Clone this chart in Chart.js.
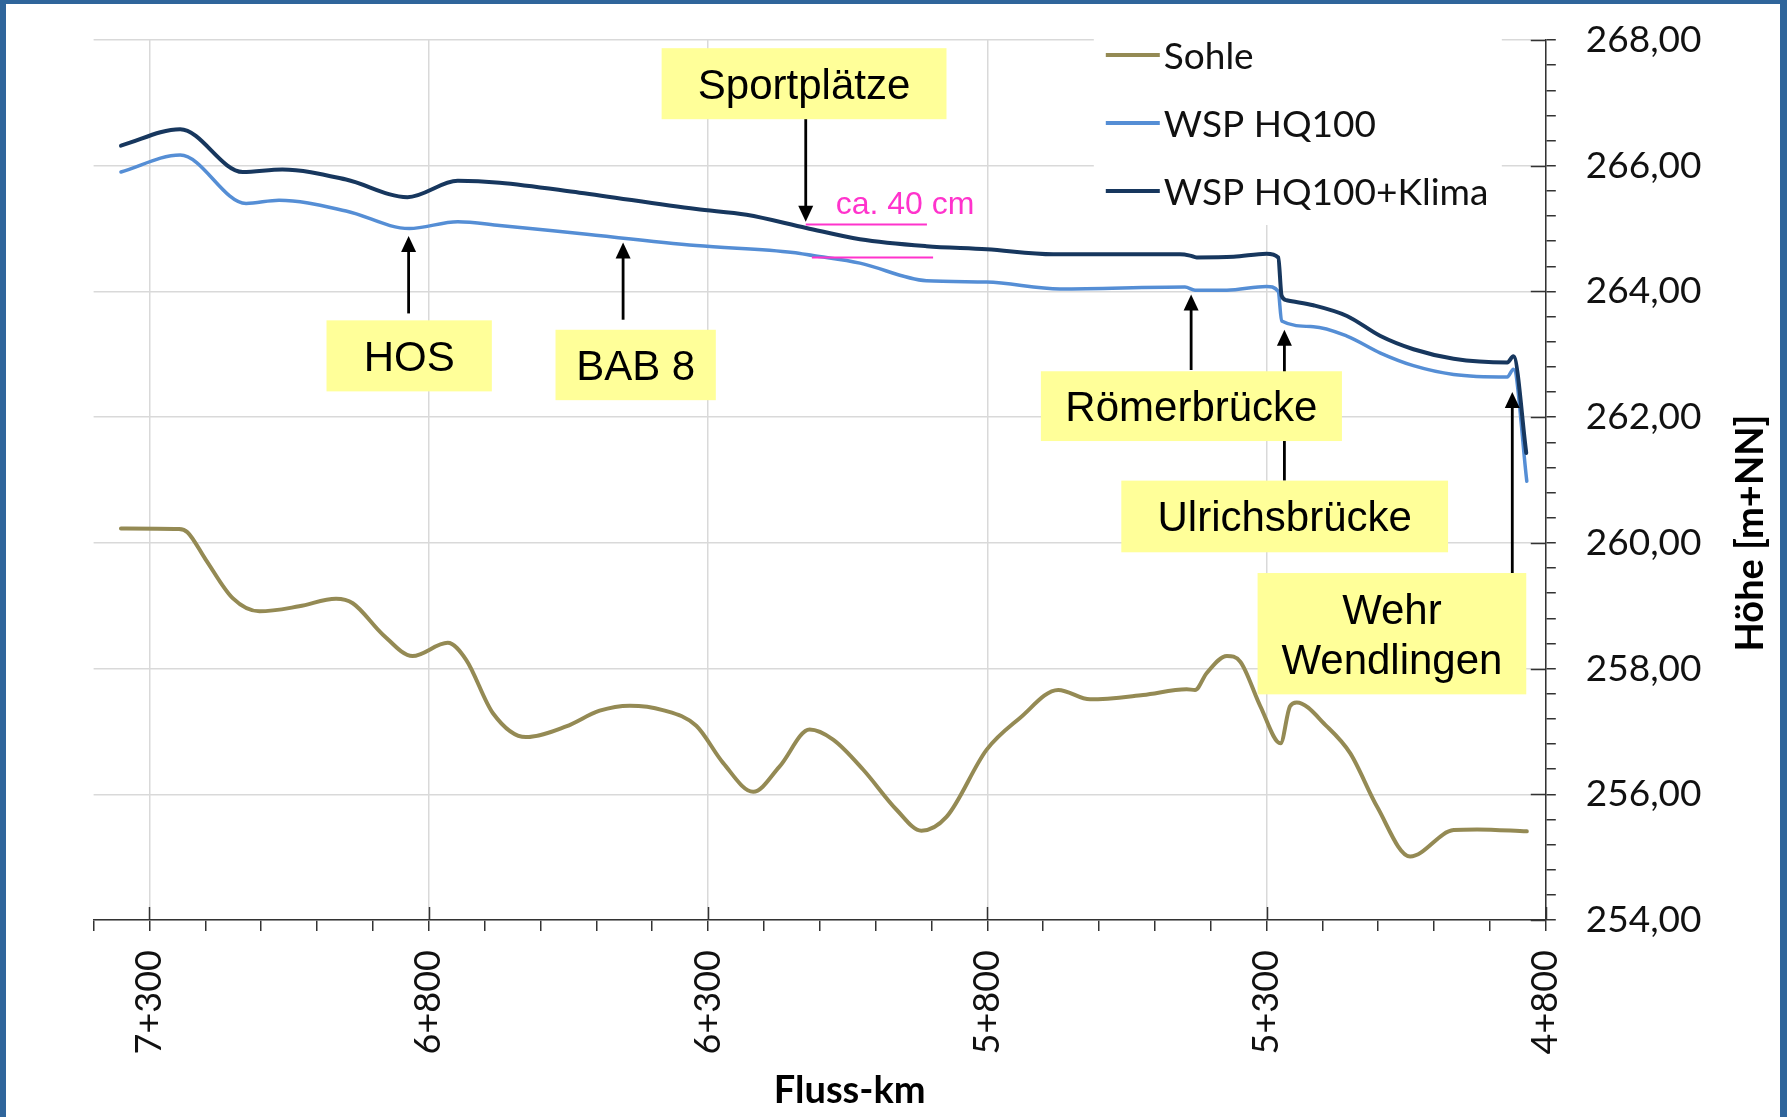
<!DOCTYPE html>
<html lang="de">
<head>
  <meta charset="UTF-8">
  <title>Längsschnitt Fluss-km 7+400 – 4+800</title>
  <script src="https://cdn.jsdelivr.net/npm/chart.js@4.4.1/dist/chart.umd.min.js"></script>
  <style>
    html, body { margin: 0; padding: 0; background: #fff; }
    #wrap { width: 1787px; height: 1117px; }
  </style>
</head>
<body>
  <div id="wrap"><canvas id="chart" width="1787" height="1117"></canvas></div>
  <script>
    // values: station (m along river) and height (m+NN)
    const sohleKm = [7351, 7247, 7232, 7199, 7151, 7103, 7032, 6966, 6936, 6882, 6829, 6766, 6733, 6685, 6626, 6554,
      6494, 6440, 6381, 6321, 6273, 6219, 6172, 6118, 6076, 6022, 5962, 5918, 5873, 5801, 5742, 5673, 5616, 5521,
      5443, 5428, 5407, 5371, 5347, 5311, 5275, 5258, 5246, 5192, 5150, 5102, 5043, 4965, 4923, 4834];
    const sohle = [260.23, 260.22, 260.17, 259.73, 259.12, 258.91, 258.99, 259.11, 259.04, 258.54, 258.20, 258.41,
      258.14, 257.29, 256.91, 257.08, 257.33, 257.41, 257.34, 257.09, 256.50, 256.04, 256.44, 257.03, 256.87, 256.39,
      255.75, 255.42, 255.64, 256.71, 257.21, 257.66, 257.51, 257.58, 257.67, 257.66, 257.93, 258.20, 258.11, 257.40,
      256.81, 257.40, 257.46, 257.08, 256.65, 255.80, 255.01, 255.43, 255.44, 255.41];

    const hq100Km = [7351, 7245, 7127, 7068, 6948, 6835, 6748, 6673, 6530, 6321, 6148, 6112, 6028, 5909, 5801, 5670,
      5446, 5428, 5371, 5300, 5279, 5273, 5216, 5156, 5096, 5037, 4965, 4869, 4858, 4834];
    const hq100 = [265.90, 266.17, 265.40, 265.45, 265.28, 265.00, 265.11, 265.05, 264.92, 264.73, 264.62, 264.57,
      264.45, 264.17, 264.15, 264.04, 264.07, 264.02, 264.02, 264.08, 264.00, 263.53, 263.44, 263.29, 263.02, 262.82,
      262.68, 262.64, 262.76, 260.98];

    const klimaKm = [7351, 7245, 7133, 7062, 6948, 6838, 6748, 6673, 6530, 6321, 6231, 6124, 6028, 5909, 5801, 5682,
      5455, 5437, 5425, 5359, 5300, 5279, 5273, 5264, 5216, 5156, 5096, 5037, 4965, 4869, 4858, 4835];
    const klima = [266.32, 266.58, 265.90, 265.94, 265.78, 265.50, 265.76, 265.73, 265.57, 265.31, 265.22, 265.01,
      264.83, 264.72, 264.67, 264.59, 264.59, 264.57, 264.54, 264.55, 264.60, 264.54, 263.93, 263.86, 263.78, 263.61,
      263.29, 263.08, 262.93, 262.87, 262.97, 261.43];

    const seriesNames = ['Sohle', 'WSP HQ100', 'WSP HQ100+Klima'];
    const xMajorKm = [7300, 6800, 6300, 5800, 5300, 4800];
    const yMajor = [254, 256, 258, 260, 262, 264, 266, 268];

    // annotation callouts: box [kmLeft, kmRight, hTop, hBottom], arrow [km, hFrom, hTip]
    const callouts = [
      { text: ['Sportplätze'], box: [6383, 5873, 267.87, 266.74], arrow: [6125, 266.75, 265.11] },
      { text: ['HOS'], box: [6983, 6687, 263.54, 262.41], arrow: [6836, 263.65, 264.88] },
      { text: ['BAB 8'], box: [6573, 6286, 263.39, 262.27], arrow: [6452, 263.55, 264.78] },
      { text: ['Ulrichsbrücke'], box: [5560, 4975, 260.99, 259.85], arrow: [5268, 260.99, 263.39] },
      { text: ['Römerbrücke'], box: [5704, 5165, 262.73, 261.62], arrow: [5435, 262.75, 263.95] },
      { text: ['Wehr', 'Wendlingen'], box: [5316, 4835, 259.52, 257.59], arrow: [4860, 259.52, 262.40] }
    ];
    // the two pink marker lines for the 40 cm difference [kmFrom, kmTo, h]
    const diffMarks = [[6125, 5908, 265.07], [6114, 5897, 264.55]];

    const colors = ['#948a54', '#558ed5', '#17375e'];
    const frameColor = '#2f659b';
    const gridColor = '#d9d9d9';
    const axisColor = '#333333';
    const uiFont = "Lato, 'Open Sans', sans-serif";
    const boxFont = "'Liberation Sans', Arial, sans-serif";

    const isMajorKm = v => xMajorKm.includes(Math.round(v));
    const isMajorH = v => Math.abs((v - 254) / 2 - Math.round((v - 254) / 2)) < 1e-6;
    const fmtKm = v => Math.floor(v / 1000) + '+' + String(Math.round(v % 1000)).padStart(3, '0');

    const pts = (xs, ys) => xs.map((x, i) => ({ x: x, y: ys[i] }));

    function arrow(c, x, yFrom, yTip) {
      const dir = Math.sign(yTip - yFrom);
      c.beginPath();
      c.moveTo(x, yFrom);
      c.lineTo(x, yTip - dir * 12);
      c.stroke();
      c.beginPath();
      c.moveTo(x, yTip);
      c.lineTo(x - 7.5, yTip - dir * 16);
      c.lineTo(x + 7.5, yTip - dir * 16);
      c.closePath();
      c.fill();
    }

    const decor = {
      id: 'decor',
      beforeDraw(chart) {
        const c = chart.ctx;
        c.save();
        c.fillStyle = '#fff';
        c.fillRect(0, 0, chart.width, chart.height);
        c.fillStyle = frameColor;
        c.fillRect(0, 0, chart.width, 4);
        c.fillRect(0, 0, 6, chart.height);
        c.fillRect(chart.width - 7, 0, 7, chart.height);
        c.restore();
      },
      beforeDatasetsDraw(chart) {
        const c = chart.ctx, a = chart.chartArea;
        const xs = chart.scales.x, ys = chart.scales.y;
        c.save();
        // legend background hides the grid
        c.fillStyle = '#fff';
        c.fillRect(a.right - 452, a.top - 20, 408, 205);
        // major tick marks also cross into the plot
        c.strokeStyle = axisColor;
        c.lineWidth = 1.5;
        c.beginPath();
        xMajorKm.forEach(v => {
          const px = Math.round(xs.getPixelForValue(v)) + 0.5;
          c.moveTo(px, a.bottom - 13);
          c.lineTo(px, a.bottom);
        });
        yMajor.forEach(v => {
          const py = Math.round(ys.getPixelForValue(v)) + 0.5;
          c.moveTo(a.right - 15, py);
          c.lineTo(a.right, py);
        });
        c.stroke();
        c.restore();
      },
      afterDatasetsDraw(chart) {
        const c = chart.ctx, a = chart.chartArea;
        const xs = chart.scales.x, ys = chart.scales.y;
        c.save();

        // legend
        c.font = '37px ' + uiFont;
        c.textBaseline = 'alphabetic';
        c.textAlign = 'left';
        chart.data.datasets.forEach((ds, i) => {
          const y = a.top + 15 + i * 68;
          c.strokeStyle = ds.borderColor;
          c.lineWidth = 4;
          c.beginPath();
          c.moveTo(a.right - 440, y);
          c.lineTo(a.right - 386, y);
          c.stroke();
          c.fillStyle = '#111';
          c.fillText(ds.label, a.right - 382, y + 13.5);
        });

        // arrows first, boxes on top of them
        c.strokeStyle = '#000';
        c.fillStyle = '#000';
        c.lineWidth = 2.8;
        callouts.forEach(n => {
          arrow(c, xs.getPixelForValue(n.arrow[0]), ys.getPixelForValue(n.arrow[1]), ys.getPixelForValue(n.arrow[2]));
        });
        c.font = '42px ' + boxFont;
        c.textAlign = 'center';
        callouts.forEach(n => {
          const x0 = xs.getPixelForValue(n.box[0]), x1 = xs.getPixelForValue(n.box[1]);
          const y0 = ys.getPixelForValue(n.box[2]), y1 = ys.getPixelForValue(n.box[3]);
          c.fillStyle = '#ffff99';
          c.fillRect(x0, y0, x1 - x0, y1 - y0);
          c.fillStyle = '#000';
          const cx = (x0 + x1) / 2, cy = (y0 + y1) / 2;
          n.text.forEach((t, i) => {
            c.fillText(t, cx, cy + 15 + (i - (n.text.length - 1) / 2) * 50);
          });
        });

        // 40 cm marker
        c.strokeStyle = '#ff33cc';
        c.fillStyle = '#ff33cc';
        c.lineWidth = 2.2;
        diffMarks.forEach(m => {
          const y = Math.round(ys.getPixelForValue(m[2])) + 0.5;
          c.beginPath();
          c.moveTo(xs.getPixelForValue(m[0]), y);
          c.lineTo(xs.getPixelForValue(m[1]), y);
          c.stroke();
        });
        c.font = '32px ' + boxFont;
        c.textAlign = 'left';
        c.fillText('ca. 40 cm', xs.getPixelForValue(diffMarks[0][0]) + 30, ys.getPixelForValue(diffMarks[0][2]) - 10);

        // axis titles
        c.fillStyle = '#000';
        c.font = 'bold 38px ' + uiFont;
        c.textAlign = 'center';
        c.fillText('Fluss-km', (a.left + a.right) / 2 + 30, chart.height - 14);
        c.translate(chart.width - 38, (a.top + a.bottom) / 2 + 53);
        c.rotate(-Math.PI / 2);
        c.fillText('Höhe [m+NN]', 0, 13.7);
        c.restore();
      }
    };

    new Chart(document.getElementById('chart'), {
      type: 'line',
      data: {
        datasets: [
          { label: seriesNames[0], data: pts(sohleKm, sohle), borderColor: colors[0], borderWidth: 4, order: 2 },
          { label: seriesNames[1], data: pts(hq100Km, hq100), borderColor: colors[1], borderWidth: 3.5, order: 1 },
          { label: seriesNames[2], data: pts(klimaKm, klima), borderColor: colors[2], borderWidth: 4, order: 0 }
        ]
      },
      options: {
        responsive: false,
        animation: false,
        layout: { padding: { left: 93.6, top: 40, right: 0, bottom: 0 } },
        elements: {
          point: { radius: 0, hoverRadius: 0 },
          line: { cubicInterpolationMode: 'monotone', fill: false, borderCapStyle: 'round', borderJoinStyle: 'round' }
        },
        plugins: { legend: { display: false }, tooltip: { enabled: false } },
        scales: {
          x: {
            type: 'linear',
            reverse: true,
            min: 4800,
            max: 7400,
            afterBuildTicks: s => {
              s.ticks = [];
              for (let v = 4800; v <= 7400; v += 100) s.ticks.push({ value: v });
            },
            afterFit: s => { s.height = 197; },
            ticks: {
              autoSkip: false,
              minRotation: 90,
              maxRotation: 90,
              padding: 19,
              color: '#111',
              font: { family: uiFont, size: 36 },
              callback: v => isMajorKm(v) ? fmtKm(v) : ''
            },
            grid: {
              color: ctx => (ctx.tick && isMajorKm(ctx.tick.value)) ? gridColor : 'rgba(0,0,0,0)',
              lineWidth: 1.5,
              tickLength: 11,
              tickColor: axisColor,
              tickWidth: 1.5
            },
            border: { display: true, color: axisColor, width: 1.5 }
          },
          y: {
            position: 'right',
            min: 254,
            max: 268,
            afterBuildTicks: s => {
              s.ticks = [];
              for (let i = 0; i <= 35; i++) s.ticks.push({ value: 254 + i * 0.4 });
            },
            afterFit: s => {
              s.width = 241.2;
              s.paddingTop = 0;
              s.paddingBottom = 0;
            },
            ticks: {
              autoSkip: false,
              padding: 30,
              color: '#111',
              font: { family: uiFont, size: 37 },
              callback: v => isMajorH(v) ? v.toFixed(2).replace('.', ',') : ''
            },
            grid: {
              color: ctx => (ctx.tick && isMajorH(ctx.tick.value)) ? gridColor : 'rgba(0,0,0,0)',
              lineWidth: 1.5,
              tickLength: 10,
              tickColor: axisColor,
              tickWidth: 1.5
            },
            border: { display: true, color: axisColor, width: 1.5 }
          }
        }
      },
      plugins: [decor]
    });
  </script>
</body>
</html>
